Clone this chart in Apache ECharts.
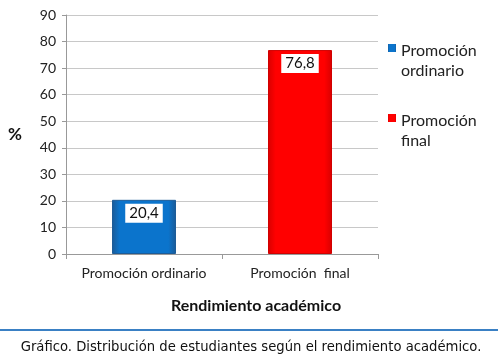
<!DOCTYPE html>
<html><head><meta charset="utf-8">
<script src="https://cdn.jsdelivr.net/npm/echarts@6/dist/echarts.min.js"></script>
<style>html,body{margin:0;padding:0;background:#fff}#c{width:498px;height:362px}</style>
</head><body><div id="c"></div>
<script>
const categories = ['Promoción ordinario', 'Promoción  final'];
const seriesNames = ['Promoción ordinario', 'Promoción final'];
const ordinarioValues = [20.4, null];
const finalValues = [null, 76.8];
const yTicks = [0, 90, 10];

const chart = echarts.init(document.getElementById('c'));
const font = 'Lato, "Open Sans", sans-serif';
function grad(edge, mid) {
  return new echarts.graphic.LinearGradient(0, 0, 1, 0, [
    {offset: 0, color: edge}, {offset: 0.12, color: mid}, {offset: 0.88, color: mid}, {offset: 1, color: edge}
  ]);
}
const label = {
  show: true, position: 'insideTop', distance: 4,
  backgroundColor: '#fff', color: '#111', fontSize: 15, fontFamily: font,
  padding: [2, 4, 2, 4],
  formatter: p => String(p.value).replace('.', ',')
};
const icon = 'path://M0,0L0.01,0M0,3L8,3L8,11L0,11ZM0,40L0.01,40';
chart.setOption({
  animation: false,
  grid: {left: 66, right: 120, top: 15, bottom: 108},
  legend: {
    orient: 'vertical', left: 383, top: 36, itemWidth: 8, itemHeight: 40, itemGap: 30,
    icon: icon,
    itemStyle: {borderWidth: 0},
    textStyle: {fontFamily: font, fontSize: 16, color: '#222', lineHeight: 20},
    formatter: n => n.replace(' ', '\n'),
    data: seriesNames
  },
  xAxis: {
    type: 'category', data: categories,
    axisLine: {lineStyle: {color: '#999'}},
    axisTick: {show: true, lineStyle: {color: '#999'}},
    axisLabel: {fontFamily: font, fontSize: 14, color: '#222', margin: 12, interval: 0, hideOverlap: false},
    name: 'Rendimiento académico', nameLocation: 'middle', nameGap: 44,
    nameTextStyle: {fontFamily: font, fontSize: 16, fontWeight: 'bold', color: '#111', padding: [0, 0, 0, 68]}
  },
  yAxis: {
    type: 'value', min: yTicks[0], max: yTicks[1], interval: yTicks[2],
    axisLine: {show: true, lineStyle: {color: '#999'}},
    axisTick: {show: true, length: 4, lineStyle: {color: '#999'}},
    splitLine: {lineStyle: {color: '#c8c8c8'}},
    axisLabel: {fontFamily: font, fontSize: 14, color: '#222', margin: 10},
    name: '%', nameLocation: 'middle', nameGap: 44, nameRotate: 0,
    nameTextStyle: {fontFamily: font, fontSize: 17, fontWeight: 'bold', color: '#111'}
  },
  series: [
    {name: seriesNames[0], type: 'bar', stack: 's', barWidth: 64, data: ordinarioValues,
     itemStyle: {color: grad('#1b5a96', '#0b74cc'), borderColor: '#1d5c98', borderWidth: 1}, label: label},
    {name: seriesNames[1], type: 'bar', stack: 's', barWidth: 64, data: finalValues,
     itemStyle: {color: grad('#d80000', '#ff0000'), borderColor: '#d00000', borderWidth: 1}, label: label}
  ],
  graphic: [
    {type: 'line', shape: {x1: 0, y1: 330, x2: 498, y2: 330}, style: {stroke: '#3a80c4', lineWidth: 2}},
    {type: 'text', x: 251, y: 348, style: {text: 'Gráfico. Distribución de estudiantes según el rendimiento académico.',
      font: '13.2px "DejaVu Sans", Verdana, sans-serif', fill: '#111', textAlign: 'center', textVerticalAlign: 'middle'}}
  ]
});
</script></body></html>
